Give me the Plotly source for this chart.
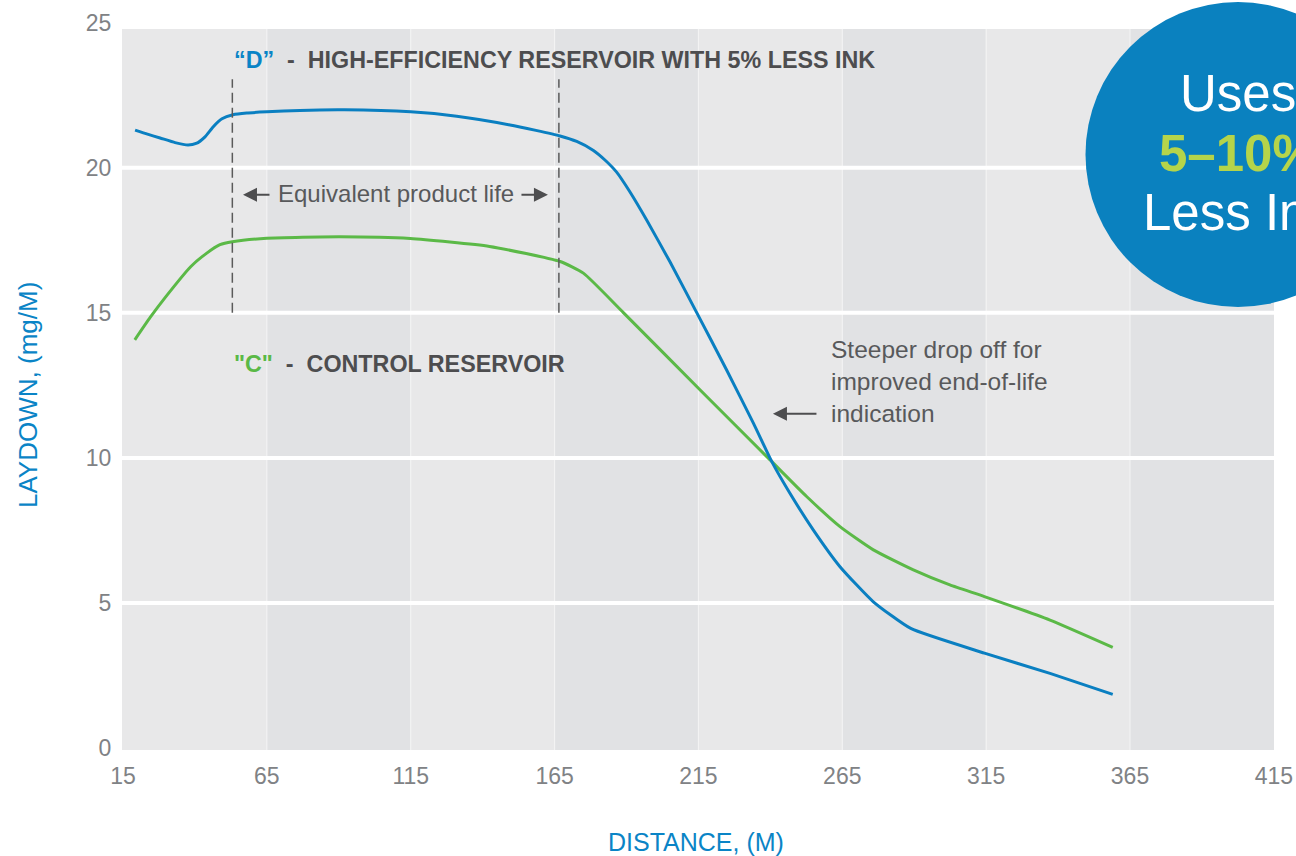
import plotly.graph_objects as go

# ---------------- data ----------------
d_x = [19.2, 23.5, 27.9, 33.1, 37.6, 40.4, 43.5, 46.3, 49.4, 53.2, 58, 65, 76.5, 92, 115, 131,
       149.5, 166.9, 172.7, 178.5, 182.5, 186.5, 191, 197, 205.1, 214.4, 224.8, 234.1, 240.5,
       246.8, 254.9, 264.2, 275.8, 288.8, 314.4, 337.2, 359]
d_y = [21.30, 21.16, 21.03, 20.87, 20.79, 20.84, 21.07, 21.41, 21.69, 21.83, 21.89, 21.93,
       21.98, 22.0, 21.93, 21.78, 21.48, 21.1, 20.91, 20.6, 20.27, 19.86, 19.2, 18.2, 16.76,
       15.01, 13.03, 11.2, 9.87, 8.78, 7.52, 6.25, 5.04, 4.12, 3.27, 2.57, 1.85]

c_x = [19.1, 24.5, 29.9, 38.6, 44, 48.7, 53, 65, 90.4, 114.8, 142.4, 166.9, 175, 188.9,
       215.6, 239.9, 252.6, 264.2, 275.8, 289.7, 302.4, 314.4, 337.2, 359]
c_y = [14.07, 14.85, 15.56, 16.6, 17.05, 17.35, 17.45, 17.57, 17.62, 17.56, 17.29, 16.77,
       16.37, 15.01, 12.34, 9.93, 8.67, 7.63, 6.83, 6.14, 5.62, 5.22, 4.41, 3.47]

x_ticks = [15, 65, 115, 165, 215, 265, 315, 365, 415]
y_ticks = [0, 5, 10, 15, 20, 25]
y_grid = [5, 10, 15, 20]
life_start, life_end = 53, 166.5

BLUE = "#0a7fc1"
GREEN = "#5bb947"
GREY_TXT = "#58595b"
TICK = "#808285"
FONT = "Liberation Sans, Arial, sans-serif"

X_MIN, X_MAX = 14.65, 415.05
Y_MIN, Y_MAX = -0.07, 25.2
BAND_TOP = 24.79

W, H = 1296, 856
ML, MR, MT, MB = 122, 22, 17, 106


def px2paper_x(px):
    return (px - ML) / (W - ML - MR)


def px2paper_y(py):
    return (H - MB - py) / (H - MT - MB)


fig = go.Figure()
fig.add_trace(go.Scatter(x=c_x, y=c_y, mode="lines", line=dict(color=GREEN, width=3, shape="spline", smoothing=0.5),
                         hoverinfo="skip", showlegend=False))
fig.add_trace(go.Scatter(x=d_x, y=d_y, mode="lines", line=dict(color=BLUE, width=3, shape="spline", smoothing=0.5),
                         hoverinfo="skip", showlegend=False))

shapes = []
# alternating vertical bands
edges = [X_MIN] + x_ticks[1:-1] + [X_MAX]
for i in range(len(edges) - 1):
    shapes.append(dict(type="rect", xref="x", yref="y", x0=edges[i], x1=edges[i + 1], y0=Y_MIN, y1=BAND_TOP,
                       fillcolor="#e8e8e9" if i % 2 == 0 else "#e1e2e4", line=dict(width=0), layer="below"))
# vertical thin white lines
for t in x_ticks[1:-1]:
    shapes.append(dict(type="line", xref="x", yref="y", x0=t, x1=t, y0=Y_MIN, y1=BAND_TOP,
                       line=dict(color="#f4f4f4", width=1), layer="below"))
# horizontal white grid lines
for g in y_grid:
    shapes.append(dict(type="line", xref="x", yref="y", x0=X_MIN, x1=X_MAX, y0=g, y1=g,
                       line=dict(color="white", width=4), layer="below"))
# dashed product-life lines
for xv in (life_start, life_end):
    shapes.append(dict(type="line", xref="x", yref="y", x0=xv, x1=xv, y0=15, y1=23.05,
                       line=dict(color="#5a5a5a", width=1.5, dash="10px,5px"), layer="above"))
# blue circle
shapes.append(dict(type="circle", xref="paper", yref="paper",
                   x0=px2paper_x(1085.5), x1=px2paper_x(1390.5), y0=px2paper_y(307), y1=px2paper_y(2),
                   fillcolor="#0a81bf", line=dict(width=0), layer="above"))

LBL = dict(family=FONT, size=23.3, color="#4d4d4f", weight="bold")
ann = []
ann.append(dict(x=life_start, y=23.72, xref="x", yref="y", xanchor="left", yanchor="middle", showarrow=False,
                text='<span style="color:#0a84c6">“D”</span>&nbsp; - &nbsp;HIGH-EFFICIENCY RESERVOIR WITH 5% LESS INK',
                font=LBL))
ann.append(dict(x=life_start, y=13.25, xref="x", yref="y", xanchor="left", yanchor="middle", showarrow=False,
                text='<span style="color:#5ab946">"C"</span>&nbsp; - &nbsp;CONTROL RESERVOIR',
                font=LBL))
ann.append(dict(x=109.8, y=19.1, xref="x", yref="y", xanchor="center", yanchor="middle", showarrow=False,
                text="Equivalent product life", font=dict(family=FONT, size=24, color=GREY_TXT)))
# arrows for product life
ann.append(dict(x=56.7, y=19.07, xref="x", yref="y", text="", showarrow=True, ax=28, ay=0,
                arrowhead=2, arrowsize=1.4, arrowwidth=2, arrowcolor="#4d4d4f"))
ann.append(dict(x=162.7, y=19.07, xref="x", yref="y", text="", showarrow=True, ax=-28, ay=0,
                arrowhead=2, arrowsize=1.4, arrowwidth=2, arrowcolor="#4d4d4f"))
# steeper drop text
ann.append(dict(x=260.4, y=12.62, xref="x", yref="y", xanchor="left", yanchor="middle", align="left", showarrow=False,
                text="Steeper drop off for<br>improved end-of-life<br>indication",
                font=dict(family=FONT, size=24.5, color=GREY_TXT)))
ann.append(dict(x=240.9, y=11.52, xref="x", yref="y", text="", showarrow=True, ax=45, ay=0,
                arrowhead=2, arrowsize=1.4, arrowwidth=2, arrowcolor="#4d4d4f"))
# axis titles
ann.append(dict(x=px2paper_x(696), y=px2paper_y(842), xref="paper", yref="paper", xanchor="center", yanchor="middle",
                showarrow=False, text="DISTANCE, (M)", font=dict(family=FONT, size=25, color="#0a84c6")))
ann.append(dict(x=px2paper_x(28), y=px2paper_y(395), xref="paper", yref="paper", xanchor="center", yanchor="middle",
                showarrow=False, textangle=-90, text="LAYDOWN, (mg/M)", font=dict(family=FONT, size=26, color="#0a84c6")))
# circle texts
cx = px2paper_x(1238)
ann.append(dict(x=cx, y=px2paper_y(93), xref="paper", yref="paper", xanchor="center", yanchor="middle",
                showarrow=False, text="Uses", font=dict(family=FONT, size=51, color="white")))
ann.append(dict(x=cx, y=px2paper_y(153), xref="paper", yref="paper", xanchor="center", yanchor="middle",
                showarrow=False, text="5–10%", font=dict(family=FONT, size=51, color="#b5d44a", weight="bold")))
ann.append(dict(x=cx, y=px2paper_y(212), xref="paper", yref="paper", xanchor="center", yanchor="middle",
                showarrow=False, text="Less Ink", font=dict(family=FONT, size=51, color="white")))

fig.update_layout(
    width=W, height=H, margin=dict(l=ML, r=MR, t=MT, b=MB, autoexpand=False),
    paper_bgcolor="white", plot_bgcolor="white",
    shapes=shapes, annotations=ann, showlegend=False,
    xaxis=dict(range=[X_MIN, X_MAX], tickvals=x_ticks, showgrid=False, zeroline=False, showline=False,
               automargin=False, ticks="outside", ticklen=5, tickcolor="rgba(0,0,0,0)",
               tickfont=dict(family=FONT, size=23, color=TICK), fixedrange=True),
    yaxis=dict(range=[Y_MIN, Y_MAX], tickvals=y_ticks, showgrid=False, zeroline=False, showline=False,
               automargin=False, ticks="outside", ticklen=5, tickcolor="rgba(0,0,0,0)",
               tickfont=dict(family=FONT, size=23, color=TICK), fixedrange=True),
)

fig.write_html("out.html", config={"displayModeBar": False},
               post_script="document.body.style.margin='0';document.body.style.overflow='hidden';")
